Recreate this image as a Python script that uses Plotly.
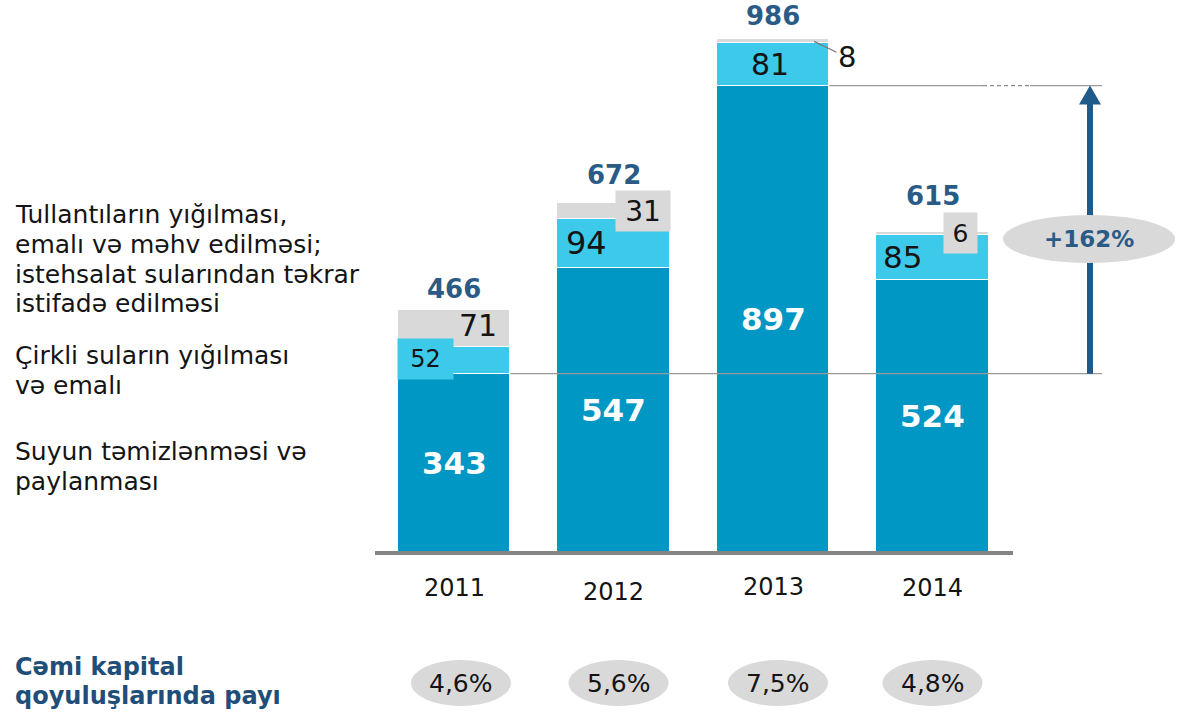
import plotly.graph_objects as go

# ---- data -------------------------------------------------------------
years = ["2011", "2012", "2013", "2014"]
water_supply = [343, 547, 897, 524]      # Suyun təmizlənməsi və paylanması
sewage = [52, 94, 81, 85]                # Çirkli suların yığılması və emalı
waste = [71, 31, 8, 6]                   # Tullantıların yığılması ...
totals = [466, 672, 986, 615]
capital_share = ["4,6%", "5,6%", "7,5%", "4,8%"]

legend_waste = ["Tullantıların yığılması,", "emalı və məhv edilməsi;",
                "istehsalat sularından təkrar", "istifadə edilməsi"]
legend_sewage = ["Çirkli suların yığılması", "və emalı"]
legend_water = ["Suyun təmizlənməsi və", "paylanması"]
share_title = ["Cəmi kapital", "qoyuluşlarında payı"]

# ---- styling ----------------------------------------------------------
W, H = 1177, 715
DARK = "#0097c4"
LIGHT = "#3cc9ea"
GREY = "#d9d9d9"
NAVY = "#2a5b87"
ARROW = "#1f5a88"
INK = "#141414"
FONT = "DejaVu Sans, Verdana, sans-serif"
BAR_W = 0.708

# pixel <-> data helpers (plot area fills the whole page)
X0, XS = 454.0, 159.5      # px of first category, px per category
Y0, YS = 552.0, 0.52       # px of zero line, px per unit


def dx(px):
    return (px - X0) / XS


def dy(py):
    return (Y0 - py) / YS


def pxw(w):
    return w / XS


xs = list(range(len(years)))
fig = go.Figure()
for vals, col in ((water_supply, DARK), (sewage, LIGHT), (waste, GREY)):
    fig.add_trace(go.Bar(
        x=xs, y=vals, width=BAR_W, marker=dict(color=col, line=dict(color="white", width=1.5)),
        hoverinfo="skip", showlegend=False))

shapes = []
ann = []

# x axis baseline
shapes.append(dict(type="line", xref="x", yref="y", x0=dx(375), x1=dx(1013),
                   y0=dy(553), y1=dy(553), line=dict(color="#858585", width=4)))

# reference lines for the growth arrow
right_edge = lambda i: i + BAR_W / 2
arrow_x = dx(1090)
line_end = dx(1102)
base_val = water_supply[0]
peak_val = water_supply[2]
shapes.append(dict(type="line", xref="x", yref="y", x0=right_edge(0), x1=line_end,
                   y0=base_val, y1=base_val, line=dict(color="#9a9a9a", width=1.3)))
shapes.append(dict(type="line", xref="x", yref="y", x0=right_edge(2), x1=dx(983),
                   y0=peak_val, y1=peak_val, line=dict(color="#9a9a9a", width=1.3)))
shapes.append(dict(type="line", xref="x", yref="y", x0=dx(983), x1=dx(1030),
                   y0=peak_val, y1=peak_val, line=dict(color="#8a8a8a", width=1.2, dash="4px,3px")))
shapes.append(dict(type="line", xref="x", yref="y", x0=dx(1030), x1=line_end,
                   y0=peak_val, y1=peak_val, line=dict(color="#9a9a9a", width=1.3)))

# growth arrow: shaft + head
head_len = 19 / YS
shapes.append(dict(type="line", xref="x", yref="y", x0=arrow_x, x1=arrow_x,
                   y0=base_val, y1=peak_val - head_len + 1, line=dict(color=ARROW, width=6)))
hw = pxw(11)
shapes.append(dict(type="path", xref="x", yref="y",
                   path=f"M {arrow_x - hw},{peak_val - head_len} L {arrow_x + hw},{peak_val - head_len} "
                        f"L {arrow_x},{peak_val} Z",
                   fillcolor=ARROW, line=dict(width=0)))
# growth badge
shapes.append(dict(type="circle", xref="x", yref="y", x0=dx(1003), x1=dx(1175),
                   y0=dy(263), y1=dy(215), fillcolor=GREY, line=dict(width=0)))
growth = round((peak_val / base_val - 1) * 100)
ann.append(dict(x=dx(1089), y=dy(239), text=f"<b>+{growth}%</b>", showarrow=False,
                font=dict(family=FONT, size=23, color=NAVY), xanchor="center", yanchor="middle"))

# capital share badges
share_shift = [7, 5, 5, 0]
for i, s in enumerate(capital_share):
    cx = i + pxw(share_shift[i])
    shapes.append(dict(type="circle", xref="x", yref="y", x0=cx - pxw(50), x1=cx + pxw(50),
                       y0=dy(706), y1=dy(660), fillcolor=GREY, line=dict(width=0)))
    ann.append(dict(x=cx, y=dy(683), text=s, showarrow=False,
                    font=dict(family=FONT, size=25, color=INK), xanchor="center", yanchor="middle"))

# year labels
year_drop = [36, 40, 35, 36]
for i, yr in enumerate(years):
    ann.append(dict(x=i, y=0, yshift=-year_drop[i], text=yr, showarrow=False,
                    font=dict(family=FONT, size=24, color=INK), xanchor="center", yanchor="middle"))

# totals on top of each column
total_lift = [21, 28, 23, 36]
for i, t in enumerate(totals):
    ann.append(dict(x=i, y=t, yshift=total_lift[i], text=f"<b>{t}</b>", showarrow=False,
                    font=dict(family=FONT, size=26, color=NAVY), xanchor="center", yanchor="middle"))

# bottom segment values
for i, v in enumerate(water_supply):
    ann.append(dict(x=i, y=v / 2, text=f"<b>{v}</b>", showarrow=False,
                    font=dict(family=FONT, size=31, color="white"), xanchor="center", yanchor="middle"))

# middle segment values
sew_shift = [-29, -27, -3, -30]
sew_size = [24, 32, 30, 31]
for i, v in enumerate(sewage):
    a = dict(x=i, y=water_supply[i] + v / 2, xshift=sew_shift[i], text=str(v), showarrow=False,
             font=dict(family=FONT, size=sew_size[i], color=INK), xanchor="center", yanchor="middle")
    if i == 0:
        a.update(bgcolor=LIGHT, width=55, height=40, borderpad=0, yshift=1)
    ann.append(a)

# top segment values
for i, v in enumerate(waste):
    top_mid = water_supply[i] + sewage[i] + v / 2
    if i == 0:
        ann.append(dict(x=i, y=top_mid, xshift=24, yshift=3, text=str(v), showarrow=False,
                        font=dict(family=FONT, size=30, color=INK), xanchor="center", yanchor="middle"))
    elif i == 1:
        ann.append(dict(x=i, y=top_mid, xshift=29.5, yshift=0, text=str(v), showarrow=False,
                        bgcolor=GREY, width=54, height=40, borderpad=0,
                        font=dict(family=FONT, size=28, color=INK), xanchor="center", yanchor="middle"))
    elif i == 2:
        ann.append(dict(x=i + pxw(41), y=top_mid, text=str(v), showarrow=True, arrowhead=0,
                        arrowwidth=1.2, arrowcolor="#7a7a7a", ax=33, ay=16, standoff=0,
                        font=dict(family=FONT, size=29, color=INK), xanchor="center", yanchor="middle"))
    else:
        ann.append(dict(x=i, y=top_mid, xshift=28, yshift=1, text=str(v), showarrow=False,
                        bgcolor=GREY, width=33, height=40, borderpad=0,
                        font=dict(family=FONT, size=25, color=INK), xanchor="center", yanchor="middle"))

# left-hand series captions
def caption(lines, first_py, step=29.5, bold=False, color=INK, size=25):
    for k, ln in enumerate(lines):
        txt = f"<b>{ln}</b>" if bold else ln
        ann.append(dict(xref="paper", yref="paper", x=13 / W, y=1 - (first_py + k * step) / H,
                        text=txt, showarrow=False, xanchor="left", yanchor="middle",
                        font=dict(family=FONT, size=size, color=color)))


caption(legend_waste, 215)
caption(legend_sewage, 356, step=30)
caption(legend_water, 451, step=30)
caption(share_title, 667, step=29, bold=True, color="#1f4e79", size=24)

fig.update_layout(
    width=W, height=H, barmode="stack", bargap=0,
    margin=dict(l=0, r=0, t=0, b=0), paper_bgcolor="white", plot_bgcolor="white",
    xaxis=dict(visible=False, range=[dx(0), dx(W)], fixedrange=True),
    yaxis=dict(visible=False, range=[dy(H), dy(0)], fixedrange=True),
    shapes=shapes, annotations=ann,
)
fig.write_html("out.html")
